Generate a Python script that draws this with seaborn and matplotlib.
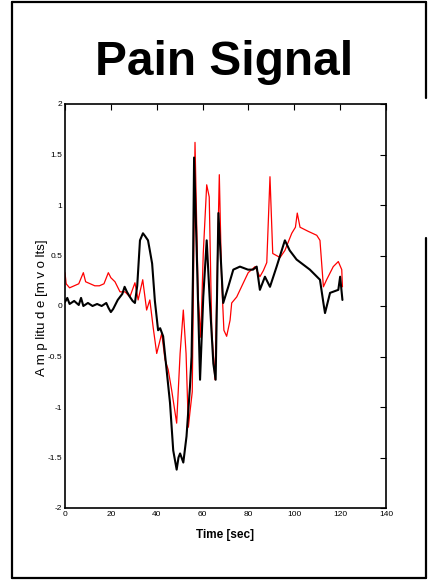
import matplotlib
matplotlib.use("Agg")
import matplotlib.pyplot as plt
import seaborn as sns
import pandas as pd
from matplotlib.lines import Line2D
from matplotlib.ticker import FormatStrFormatter

# ---- data ----
black_t = [0, 1, 2, 4, 6, 7, 8, 10, 12, 14, 16, 18, 19, 20, 21, 23, 25, 26, 27, 28.3, 29.5,
           30.5, 31.5, 32.7, 34, 35, 36.2, 37, 38, 39.2, 40.6, 41.5, 42.8, 44.3, 45.8, 47.2,
           48.7, 49.5, 50.2, 51.6, 53, 54.5, 55.2, 55.8, 56.3, 57.4, 58.9, 60.3, 61.8, 63.2,
           64.7, 65.7, 66.9, 67.9, 69, 71.2, 73.4, 76.3, 79.8, 82, 83.6, 85, 87.2, 89.4,
           92.3, 95.9, 98, 101, 106.8, 111.2, 112.7, 113.4, 115.6, 119.2, 120, 121]
black_v = [0.04, 0.08, 0.02, 0.05, 0.01, 0.08, 0.0, 0.03, 0.0, 0.02, 0.0, 0.03, -0.02, -0.06,
           -0.03, 0.06, 0.12, 0.19, 0.14, 0.09, 0.05, 0.03, 0.2, 0.65, 0.72, 0.69, 0.65, 0.55,
           0.42, 0.05, -0.24, -0.22, -0.3, -0.63, -0.96, -1.43, -1.62, -1.5, -1.46, -1.55,
           -1.29, -0.8, -0.5, 0.3, 1.47, 0.58, -0.73, 0.09, 0.65, 0.03, -0.57, -0.73, 0.92,
           0.49, 0.03, 0.19, 0.36, 0.39, 0.36, 0.36, 0.39, 0.16, 0.29, 0.19, 0.39, 0.65,
           0.55, 0.46, 0.36, 0.26, 0.03, -0.07, 0.13, 0.16, 0.29, 0.06]

red_t = [0, 0.5, 2, 4, 6, 8, 9, 11, 13, 15, 17, 18.9, 20, 21.8, 24, 26.2, 28.3, 30.5, 31.9,
         33.9, 35.6, 37, 38.5, 40, 41, 42.2, 43.6, 45, 46.5, 48.7, 50.2, 51.6, 52.8, 53.8,
         54.5, 55.5, 56.7, 58.1, 59.2, 60.3, 61.8, 62.9, 64, 65.4, 67.3, 68.3, 69.3, 70.5,
         72, 72.7, 74.9, 77.8, 79.9, 82.9, 85, 86.5, 88, 89.4, 90.6, 93.8, 95.9, 98.9,
         100.5, 101.3, 102.5, 106, 109.8, 111.2, 112.7, 114.1, 117, 119.2, 120.7, 121]
red_v = [0.33, 0.22, 0.18, 0.2, 0.22, 0.33, 0.24, 0.22, 0.2, 0.2, 0.22, 0.33, 0.28, 0.24,
         0.14, 0.14, 0.09, 0.23, 0.06, 0.26, -0.04, 0.06, -0.22, -0.47, -0.38, -0.27, -0.53,
         -0.63, -0.83, -1.16, -0.47, -0.04, -0.47, -1.2, -1.05, -0.85, 1.62, 0.09, -0.31,
         0.52, 1.2, 1.08, -0.24, -0.73, 1.3, 0.26, -0.24, -0.3, -0.14, 0.03, 0.09, 0.23,
         0.33, 0.39, 0.29, 0.35, 0.43, 1.28, 0.52, 0.48, 0.55, 0.72, 0.78, 0.92, 0.78,
         0.74, 0.70, 0.65, 0.19, 0.26, 0.39, 0.44, 0.36, 0.19]

x_ticks = [0, 20, 40, 60, 80, 100, 120, 140]
y_ticks = [-2, -1.5, -1, -0.5, 0, 0.5, 1, 1.5, 2]

title_text = "Pain Signal"
x_label = "Time [sec]"
y_label = "A m p litu d e [m v o lts]"

# ---- styling ----
sns.set_style("white")
plt.rcParams['font.family'] = ['Liberation Sans', 'DejaVu Sans']
plt.rcParams['text.color'] = 'black'
plt.rcParams['axes.labelcolor'] = 'black'
plt.rcParams['xtick.color'] = 'black'
plt.rcParams['ytick.color'] = 'black'

W, H = 428, 580
fig = plt.figure(figsize=(W / 100, H / 100), dpi=100)
fig.patch.set_facecolor("white")

ax = fig.add_axes([65 / W, 1 - 508 / H, (386 - 65) / W, (508 - 104) / H])

red_df = pd.DataFrame({"t": red_t, "v": red_v})
black_df = pd.DataFrame({"t": black_t, "v": black_v})
sns.lineplot(data=red_df, x="t", y="v", ax=ax, color="#ff0000", linewidth=0.9,
             estimator=None, sort=False)
sns.lineplot(data=black_df, x="t", y="v", ax=ax, color="black", linewidth=1.5,
             estimator=None, sort=False)

ax.set_xlim(0, 140)
ax.set_ylim(-2, 2)
ax.set_xticks(x_ticks)
ax.set_yticks(y_ticks)
ax.yaxis.set_major_formatter(FormatStrFormatter('%g'))
ax.tick_params(direction='in', length=4, width=0.8, top=True, right=True,
               labelsize=6, pad=2, colors='black', labelcolor='black')
for sp in ax.spines.values():
    sp.set_color("black")
    sp.set_linewidth(1.2)
    sp.set_visible(True)

ax.set_xlabel(x_label, fontsize=8.5, fontweight='bold', color='black', labelpad=8)
ax.set_ylabel("")
fig.text(42 / W, 1 - 308 / H, y_label, rotation=90, ha='center', va='center',
         fontsize=9.5, color='black')

fig.text(224 / W, 1 - 75 / H, title_text, ha='center', va='baseline',
         fontsize=34.5, fontweight='bold', color='black')

# slide border
def pline(xs, ys):
    fig.add_artist(Line2D([x / W for x in xs], [1 - y / H for y in ys],
                          transform=fig.transFigure, color='black', linewidth=1.6))

pline([12, 12], [2, 578])
pline([12, 426], [2, 2])
pline([12, 426], [578, 578])
pline([426, 426], [2, 98])
pline([426, 426], [238, 578])

fig.savefig("out.png", dpi=100, facecolor="white")
